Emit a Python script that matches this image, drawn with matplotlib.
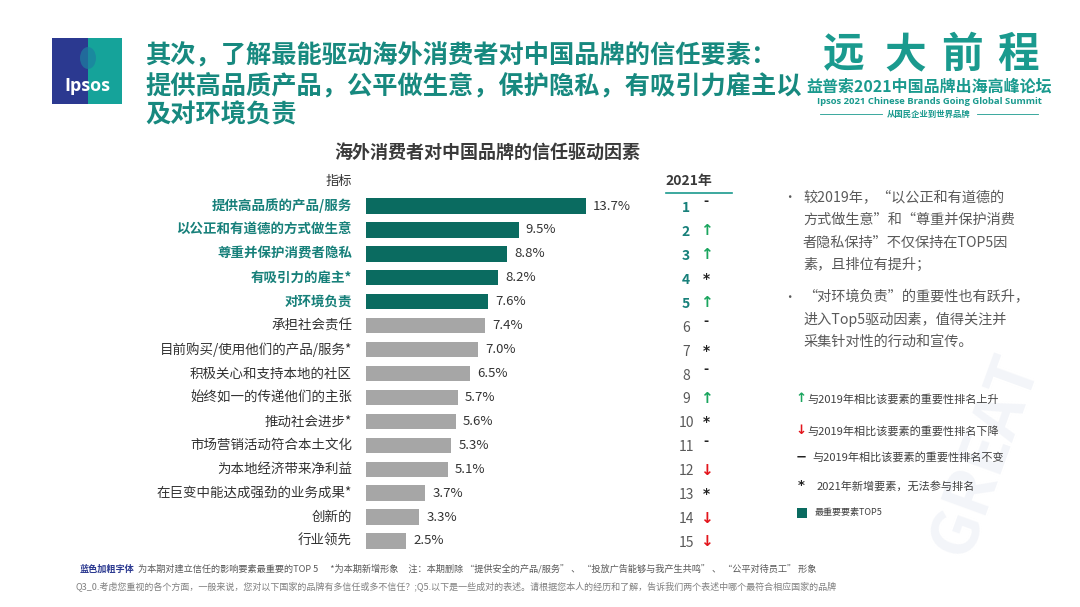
import matplotlib
matplotlib.use("Agg")
import matplotlib.pyplot as plt
from matplotlib.patches import Rectangle, Ellipse
from matplotlib.lines import Line2D

plt.rcParams['font.family'] = ['Noto Sans CJK SC', 'DejaVu Sans']

# ---------------- data ----------------
categories = ["提供高品质的产品/服务", "以公正和有道德的方式做生意", "尊重并保护消费者隐私",
              "有吸引力的雇主*", "对环境负责", "承担社会责任", "目前购买/使用他们的产品/服务*",
              "积极关心和支持本地的社区", "始终如一的传递他们的主张", "推动社会进步*",
              "市场营销活动符合本土文化", "为本地经济带来净利益", "在巨变中能达成强劲的业务成果*",
              "创新的", "行业领先"]
values = [13.7, 9.5, 8.8, 8.2, 7.6, 7.4, 7.0, 6.5, 5.7, 5.6, 5.3, 5.1, 3.7, 3.3, 2.5]
ranks = [1, 2, 3, 4, 5, 6, 7, 8, 9, 10, 11, 12, 13, 14, 15]
changes = ["same", "up", "up", "new", "up", "same", "new", "same", "up", "new",
           "same", "down", "new", "down", "down"]
top_n = 5

TEAL = "#0a6b60"
LABEL_TEAL = "#17807a"
GRAY = "#a6a6a6"
HEAD = "#17897f"

W, H = 1080, 607
fig = plt.figure(figsize=(W / 100, H / 100), dpi=100)
fig.patch.set_facecolor("white")

def fx(x): return x / W
def fy(y): return 1 - y / H

# faint watermark
fig.text(fx(985), fy(455), "GREAT", fontsize=46, fontweight="bold", color="#f3f5f9",
         rotation=70, ha="center", va="center", zorder=0)

# ---------------- logo (Ipsos) ----------------
fig.patches.append(Rectangle((fx(52), fy(104)), 70 / W, 66 / H, transform=fig.transFigure,
                             facecolor="#2b3990", edgecolor="none"))
fig.patches.append(Rectangle((fx(88), fy(104)), 34 / W, 66 / H, transform=fig.transFigure,
                             facecolor="#15a39a", edgecolor="none"))
fig.patches.append(Ellipse((fx(88), fy(58)), 16 / W, 22 / H, transform=fig.transFigure,
                           facecolor="#1d7fa0", edgecolor="none", alpha=0.7))
fig.text(fx(87), fy(86), "Ipsos", fontsize=13, color="white", fontweight="bold",
         ha="center", va="center", family=["Open Sans", "DejaVu Sans"])

# ---------------- main heading ----------------
heading = ["其次，了解最能驱动海外消费者对中国品牌的信任要素：",
           "提供高品质产品，公平做生意，保护隐私，有吸引力雇主以",
           "及对环境负责"]
for i, line in enumerate(heading):
    fig.text(fx(145), fy(56 + i * 29.5), line, fontsize=18.2, fontweight="bold",
             color=HEAD, ha="left", va="center")

# ---------------- top-right logo ----------------
for ch, cx in zip("远大前程", [844, 905, 962, 1018]):
    fig.text(fx(cx), fy(55), ch, fontsize=30, fontweight="heavy", color="#1a9a8e",
             ha="center", va="center")
fig.text(fx(929), fy(87), "益普索2021中国品牌出海高峰论坛", fontsize=11.5, fontweight="bold",
         color="#1a9a8e", ha="center", va="center")
fig.text(fx(929), fy(102), "Ipsos 2021 Chinese Brands Going Global Summit", fontsize=6.8,
         fontweight="bold", color="#1a9a8e", ha="center", va="center",
         family=["Open Sans", "DejaVu Sans"])
fig.text(fx(929), fy(114), "从国民企业到世界品牌", fontsize=6, fontweight="bold",
         color="#1a9a8e", ha="center", va="center")
fig.lines.append(Line2D([fx(820), fx(882)], [fy(114), fy(114)], transform=fig.transFigure,
                        color="#1a9a8e", lw=0.6))
fig.lines.append(Line2D([fx(977), fx(1038)], [fy(114), fy(114)], transform=fig.transFigure,
                        color="#1a9a8e", lw=0.6))

# ---------------- chart title & headers ----------------
fig.text(fx(487), fy(152), "海外消费者对中国品牌的信任驱动因素", fontsize=13,
         fontweight="bold", color="#3a3a3a", ha="center", va="center")
fig.text(fx(352), fy(181), "指标", fontsize=9.5, color="#333333", ha="right", va="center")
fig.text(fx(689), fy(181), "2021年", fontsize=10, fontweight="bold", color="#3a3a3a",
         ha="center", va="center")
fig.lines.append(Line2D([fx(666), fx(732)], [fy(193), fy(193)], transform=fig.transFigure,
                        color="#1a9a8e", lw=1.2))

# ---------------- bar axes ----------------
ax_left, ax_right = 366, 646
row_top, row_bot = 206, 541
step = (row_bot - row_top) / (len(categories) - 1)
ax_top = row_top - step / 2
ax_bot = row_bot + step / 2
ax = fig.add_axes([fx(ax_left), fy(ax_bot), (ax_right - ax_left) / W, (ax_bot - ax_top) / H])
px_per_pct = 220 / 13.7
ax.set_xlim(0, (ax_right - ax_left) / px_per_pct)
ax.set_ylim(len(categories) - 0.5, -0.5)
ax.axis("off")

ypos = list(range(len(categories)))
colors = [TEAL if i < top_n else GRAY for i in ypos]
ax.barh(ypos, values, height=0.64, color=colors, edgecolor="none")

rank_x = 686 - ax_left
sym_x = 706 - ax_left
for i, (v, c) in enumerate(zip(values, categories)):
    ax.text(v + 0.45, i, f"{v:.1f}%", fontsize=9.5, color="#333333", ha="left", va="center")
    top = i < top_n
    ax.annotate(c, xy=(0, i), xycoords="data", xytext=(-14, 0), textcoords="offset pixels",
                ha="right", va="center", fontsize=9.7,
                fontweight="bold" if top else "normal",
                color=LABEL_TEAL if top else "#333333")
    ax.annotate(str(ranks[i]), xy=(0, i), xycoords="data",
                xytext=(rank_x, -2), textcoords="offset pixels",
                ha="center", va="center", fontsize=10,
                fontweight="bold" if top else "normal",
                color=LABEL_TEAL if top else "#595959")
    ch = changes[i]
    if ch == "up":
        sym, col, fs, dy = "↑", "#1aa55e", 11, -1
    elif ch == "down":
        sym, col, fs, dy = "↓", "#e3141b", 11, -1
    elif ch == "new":
        sym, col, fs, dy = "*", "#222222", 10, -1
    else:
        sym, col, fs, dy = "-", "#222222", 9, 4
    ax.annotate(sym, xy=(0, i), xytext=(sym_x, dy), textcoords="offset pixels",
                ha="center", va="center", fontsize=fs, fontweight="bold",
                color=col, family=["DejaVu Sans"])

# ---------------- right-side commentary ----------------
bullets = [
    ["较2019年，“以公正和有道德的", "方式做生意”和“尊重并保护消费", "者隐私保持”不仅保持在TOP5因", "素，且排位有提升；"],
    ["“对环境负责”的重要性也有跃升，", "进入Top5驱动因素，值得关注并", "采集针对性的行动和宣传。"],
]
starts = [198, 297]
for lines, y0 in zip(bullets, starts):
    fig.text(fx(789), fy(y0), "•", fontsize=9, color="#595959", ha="center", va="center")
    for k, line in enumerate(lines):
        fig.text(fx(803), fy(y0 + k * 22.3), line, fontsize=10.2, color="#595959",
                 ha="left", va="center")

# ---------------- legend ----------------
leg_items = [
    ("↑", "#1aa55e", "与2019年相比该要素的重要性排名上升", 399, 807),
    ("↓", "#e3141b", "与2019年相比该要素的重要性排名下降", 431, 807),
    ("−", "#222222", "与2019年相比该要素的重要性排名不变", 457, 812),
    ("*", "#222222", "2021年新增要素，无法参与排名", 486, 817),
]
for sym, col, txt, yy, tx in leg_items:
    fig.text(fx(801), fy(yy), sym, fontsize=9.5, fontweight="bold", color=col,
             ha="center", va="center", family=["DejaVu Sans"])
    fig.text(fx(tx), fy(yy), txt, fontsize=8, color="#404040", ha="left", va="center")
fig.patches.append(Rectangle((fx(797), fy(518)), 10 / W, 10 / H, transform=fig.transFigure,
                             facecolor=TEAL, edgecolor="none"))
fig.text(fx(815), fy(513), "最重要要素TOP5", fontsize=6.5, color="#404040", ha="left", va="center")

# ---------------- footer ----------------
fig.text(fx(80), fy(569), "蓝色加粗字体", fontsize=6.6, fontweight="bold", color="#2b3990",
         ha="left", va="center")
fig.text(fx(138), fy(569),
         "为本期对建立信任的影响要素最重要的TOP 5      *为本期新增形象     注：本期删除 “提供安全的产品/服务” 、 “投放广告能够与我产生共鸣” 、 “公平对待员工” 形象",
         fontsize=6.6, color="#595959", ha="left", va="center")
fig.text(fx(76), fy(586),
         "Q3_0.考虑您重视的各个方面，一般来说，您对以下国家的品牌有多信任或多不信任？;Q5.以下是一些成对的表述。请根据您本人的经历和了解，告诉我们两个表述中哪个最符合相应国家的品牌",
         fontsize=6.5, color="#7f7f7f", ha="left", va="center")

fig.savefig("out.png", dpi=100, facecolor="white")
